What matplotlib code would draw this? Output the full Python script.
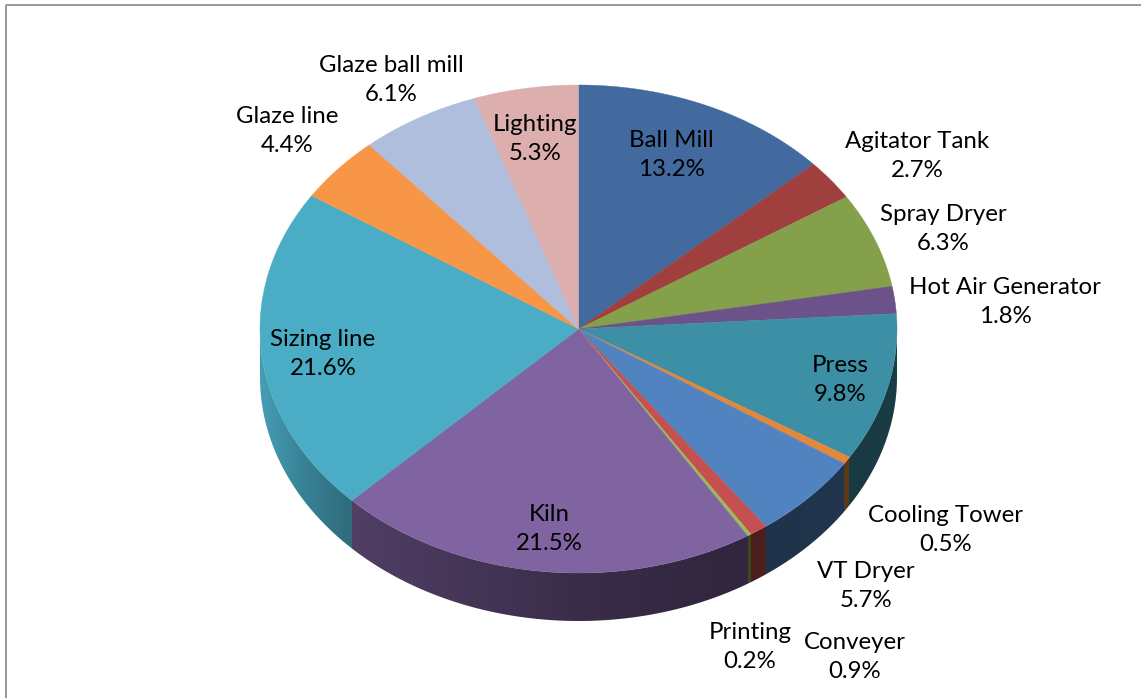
import numpy as np
import matplotlib.pyplot as plt
from matplotlib.patches import Polygon
from matplotlib.colors import to_rgb

categories = ["Ball Mill", "Agitator Tank", "Spray Dryer", "Hot Air Generator",
              "Press", "Cooling Tower", "VT Dryer", "Conveyer", "Printing",
              "Kiln", "Sizing line", "Glaze line", "Glaze ball mill", "Lighting"]
shares = [13.2, 2.7, 6.3, 1.8, 9.8, 0.5, 5.7, 0.9, 0.2, 21.5, 21.6, 4.4, 6.1, 5.3]

COLORS = ["#426A9E", "#A0403E", "#84A04A", "#6B5288", "#3D8FA5", "#E3883B",
          "#5283C1", "#C5504F", "#9BBB59", "#8064A2", "#4BACC6", "#F79646",
          "#AFBEDD", "#DCAEAD"]

# label centres, in pixels from the top-left corner
LABEL_XY = [(671, 155), (917, 156), (943, 229), (1005, 302), (840, 380),
            (946, 530), (866, 586), (855, 657), (750, 647), (549, 529),
            (323, 354), (287, 131), (391, 80), (535, 139)]

W, H = 1141, 698
CX, CY, RX, RY, DEPTH = 578.5, 329, 318.5, 244, 48


def rim(t):
    """Point on the top ellipse, t in degrees clockwise from 12 o'clock."""
    r = np.radians(t)
    return CX + RX * np.sin(r), CY - RY * np.cos(r)


def shade(s):
    # side wall gets darker from left to right (s = sin of the angle)
    return np.interp(s, [-1, -0.87, -0.72, 0, 0.5, 1],
                     [0.92, 0.76, 0.63, 0.45, 0.38, 0.42])


fig = plt.figure(figsize=(W / 100, H / 100), dpi=100)
ax = fig.add_axes([0, 0, 1, 1])
ax.set_xlim(0, W)
ax.set_ylim(H, 0)
ax.axis("off")

bounds = np.concatenate([[0], np.cumsum(shares)]) / np.sum(shares) * 360
rgb = np.array([to_rgb(c) for c in COLORS])

# side wall of the front half: one shaded strip, coloured column by column
ncol = 3000
xs = np.linspace(CX - RX, CX + RX, ncol)
s = np.clip((xs - CX) / RX, -1, 1)
t_front = 180 - np.degrees(np.arcsin(s))
idx = np.clip(np.searchsorted(bounds, t_front, side="right") - 1, 0, len(shares) - 1)
strip = rgb[idx] * shade(s)[:, None]
ts = np.linspace(90, 270, 721)
tx, ty = rim(ts)
side_pts = list(zip(tx, ty)) + list(zip(tx[::-1], ty[::-1] + DEPTH))
side = Polygon(side_pts, closed=True, facecolor="none", edgecolor="none")
ax.add_patch(side)
im = ax.imshow(strip[None, :, :], extent=(CX - RX, CX + RX, CY + RY + DEPTH, CY),
               aspect="auto", interpolation="nearest")
im.set_clip_path(side)

# top face
for i in range(len(shares)):
    ts = np.linspace(bounds[i], bounds[i + 1], max(2, int((bounds[i + 1] - bounds[i]) * 2) + 1))
    px, py = rim(ts)
    pts = [(CX, CY)] + list(zip(px, py))
    ax.add_patch(Polygon(pts, closed=True, facecolor=COLORS[i],
                         edgecolor=COLORS[i], linewidth=0.3))

for name, val, (lx, ly) in zip(categories, shares, LABEL_XY):
    ax.text(lx, ly, f"{name}\n{val:.1f}%", ha="center", va="center",
            fontsize=17.3, family="Lato", linespacing=1.5, color="black")

# chart area frame
ax.plot([5.5, 5.5, W], [H, 4.5, 4.5], color="#888888", lw=1.2,
        solid_capstyle="butt")

fig.savefig("out.png", dpi=100)
